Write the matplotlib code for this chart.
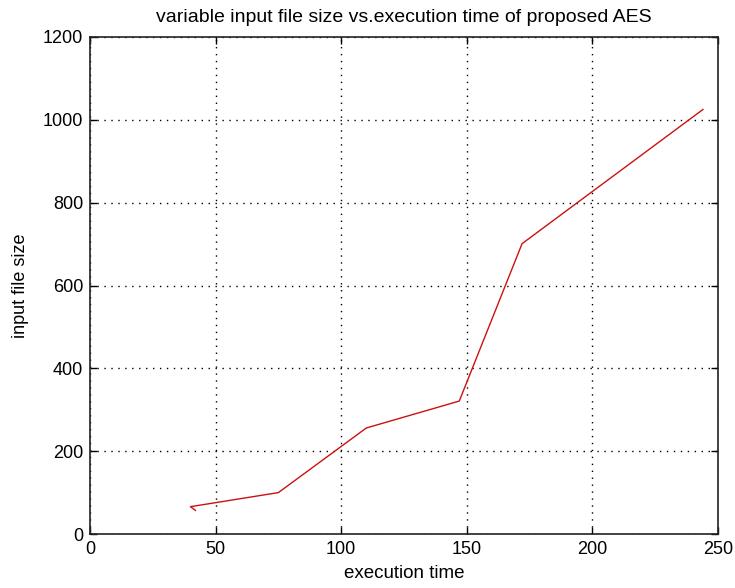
import matplotlib
matplotlib.use("Agg")
import matplotlib.pyplot as plt

exec_time = [42, 40, 75, 110, 147, 172, 244]
file_size = [57, 66, 100, 256, 321, 701, 1025]
xticks = [0, 50, 100, 150, 200, 250]
yticks = [0, 200, 400, 600, 800, 1000, 1200]

plt.rcParams['font.family'] = ['Liberation Sans', 'DejaVu Sans']

fig = plt.figure(figsize=(7.35, 5.88), dpi=100)
ax = fig.add_axes([0.1224, 0.0918, 0.8545, 0.8453])
ax.plot(exec_time, file_size, color='#cc1010', linewidth=1.0)
ax.set_xlim(0, 250)
ax.set_ylim(0, 1200)
ax.set_xticks(xticks)
ax.set_yticks(yticks)
ax.tick_params(direction='in', top=True, right=True, labelsize=13, length=5, color='black', width=1, pad=5)
ax.grid(True, linestyle=(0, (1, 4)), color='black', linewidth=1)
for s in ax.spines.values():
    s.set_color('#222222')
    s.set_linewidth(1.2)
ax.set_title('variable input file size vs.execution time of proposed AES', fontsize=14, pad=11)
ax.set_xlabel('execution time', fontsize=13.5, labelpad=5)
ax.set_ylabel('input file size', fontsize=13, labelpad=10)
fig.savefig('out.png', dpi=100)
